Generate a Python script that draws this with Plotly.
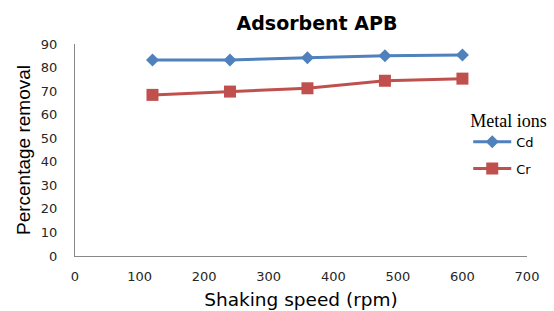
import plotly.graph_objects as go

speed = [120, 240, 360, 480, 600]
cd_removal = [83.2, 83.2, 84.2, 85.0, 85.3]
cr_removal = [68.4, 69.8, 71.2, 74.4, 75.3]
x_ticks = [0, 100, 200, 300, 400, 500, 600, 700]
y_ticks = [0, 10, 20, 30, 40, 50, 60, 70, 80, 90]

fig = go.Figure()
fig.add_trace(go.Scatter(x=speed, y=cd_removal, name="Cd", mode="lines+markers",
                         legendgroup="cd",
                         line=dict(color="#4F81BD", width=3),
                         marker=dict(symbol="diamond", size=10, color="#4F81BD")))
fig.add_trace(go.Scatter(x=speed, y=cr_removal, name="Cr", mode="lines+markers",
                         legendgroup="cr",
                         line=dict(color="#C0504D", width=3),
                         marker=dict(symbol="square", size=12, color="#C0504D")))

fig.update_layout(
    width=554, height=311,
    margin=dict(l=75, r=27, t=44, b=55, autoexpand=False),
    paper_bgcolor="white", plot_bgcolor="white",
    title=dict(text="<b>Adsorbent APB</b>", x=317/554, xanchor="center",
               y=1-23/311, yanchor="middle", yref="container",
               font=dict(family="DejaVu Sans, Verdana", size=19, color="black")),
    font=dict(family="DejaVu Sans, Verdana", size=13, color="#262626"),
    legend=dict(title=dict(text="Metal ions",
                           font=dict(family="Liberation Serif, Times New Roman", size=18, color="black")),
                x=0.870, y=0.72, xanchor="left", yanchor="top",
                font=dict(family="DejaVu Sans, Verdana", size=13, color="black"),
                bgcolor="rgba(0,0,0,0)", tracegroupgap=7, itemwidth=38),
    xaxis=dict(range=[0, 700], tickvals=x_ticks, showgrid=False, zeroline=False,
               showline=True, linecolor="#888888", linewidth=1, ticks="",
               ticklabelstandoff=8, automargin=False,
               title=dict(text="Shaking speed (rpm)", standoff=10,
                          font=dict(family="DejaVu Sans, Verdana", size=18.5, color="black"))),
    yaxis=dict(range=[0, 90], tickvals=y_ticks, showgrid=False, zeroline=False,
               showline=True, linecolor="#888888", linewidth=1, ticks="",
               ticklabelstandoff=14, automargin=False,
               title=dict(text="Percentage removal", standoff=5,
                          font=dict(family="Liberation Sans, Arial", size=19, color="black"))),
)

fig.write_html("out.html", config={"displayModeBar": False},
               post_script="document.body.style.margin='0';document.body.style.overflow='hidden';")
